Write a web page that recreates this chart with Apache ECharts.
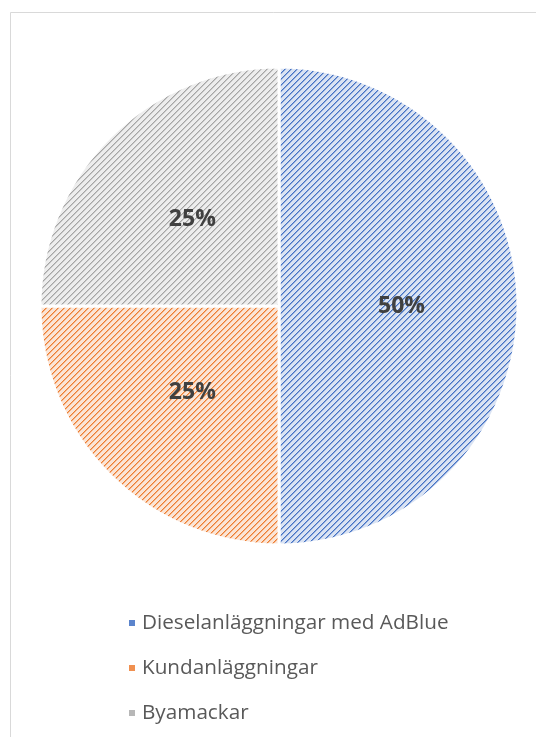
<!DOCTYPE html>
<html>
<head>
<meta charset="utf-8">
<script src="https://cdn.jsdelivr.net/npm/echarts@6/dist/echarts.min.js"></script>
<style>html,body{margin:0;padding:0;background:#fff;}#c{width:536px;height:737px;}</style>
</head>
<body>
<div id="c"></div>
<script>
const categories = ['Dieselanläggningar med AdBlue', 'Kundanläggningar', 'Byamackar'];
const values = [50, 25, 25];
const fgColors = ['#4472C4', '#ED7D31', '#A5A5A5'];
const midColors = ['#8EA9DB', '#F4B183', '#C9C9C9'];
const bgColors = ['#DAE3F3', '#FBE5D6', '#EDEDED'];
const legendColors = ['#5B84CC', '#F09050', '#B7B7B7'];

function makePattern(fg, mid, bg) {
  const s = 6;
  const cv = document.createElement('canvas');
  cv.width = s; cv.height = s;
  const ctx = cv.getContext('2d');
  ctx.fillStyle = bg;
  ctx.fillRect(0, 0, s, s);
  for (let i = 0; i < s; i++) {
    ctx.fillStyle = fg;
    ctx.fillRect(i, s - 1 - i, 1, 1);
    ctx.fillStyle = mid;
    ctx.fillRect((i + 1) % s, s - 1 - i, 1, 1);
  }
  return { image: cv, repeat: 'repeat' };
}

const chart = echarts.init(document.getElementById('c'), null, { renderer: 'canvas' });
const data = categories.map((name, i) => ({
  name: name,
  value: values[i],
  itemStyle: { color: makePattern(fgColors[i], midColors[i], bgColors[i]) }
}));

chart.setOption({
  animation: false,
  backgroundColor: '#fff',
  graphic: [{
    type: 'rect',
    shape: { x: 10.5, y: 12.5, width: 700, height: 900 },
    style: { fill: 'none', stroke: '#D9D9D9', lineWidth: 1 },
    silent: true, z: -1
  }],
  legend: {
    orient: 'vertical',
    left: 122,
    top: 607,
    itemWidth: 8,
    itemHeight: 8,
    itemGap: 23,
    icon: 'rect',
    textStyle: { fontFamily: 'Open Sans', fontSize: 20.7, color: '#595959', lineHeight: 22, padding: [0, 0, 0, 1] },
    data: categories.map((name, i) => ({ name: name, itemStyle: { color: legendColors[i] } }))
  },
  series: [{
    type: 'pie',
    center: [279, 306],
    radius: 239,
    startAngle: 90,
    clockwise: true,
    data: data,
    itemStyle: { borderColor: '#fff', borderWidth: 3 },
    label: {
      show: true,
      position: 'inside',
      formatter: '{d}%',
      fontFamily: 'Open Sans',
      fontWeight: 'bold',
      fontSize: 23,
      color: '#404040'
    },
    labelLine: { show: false },
    emphasis: { disabled: true }
  }]
});
</script>
</body>
</html>
